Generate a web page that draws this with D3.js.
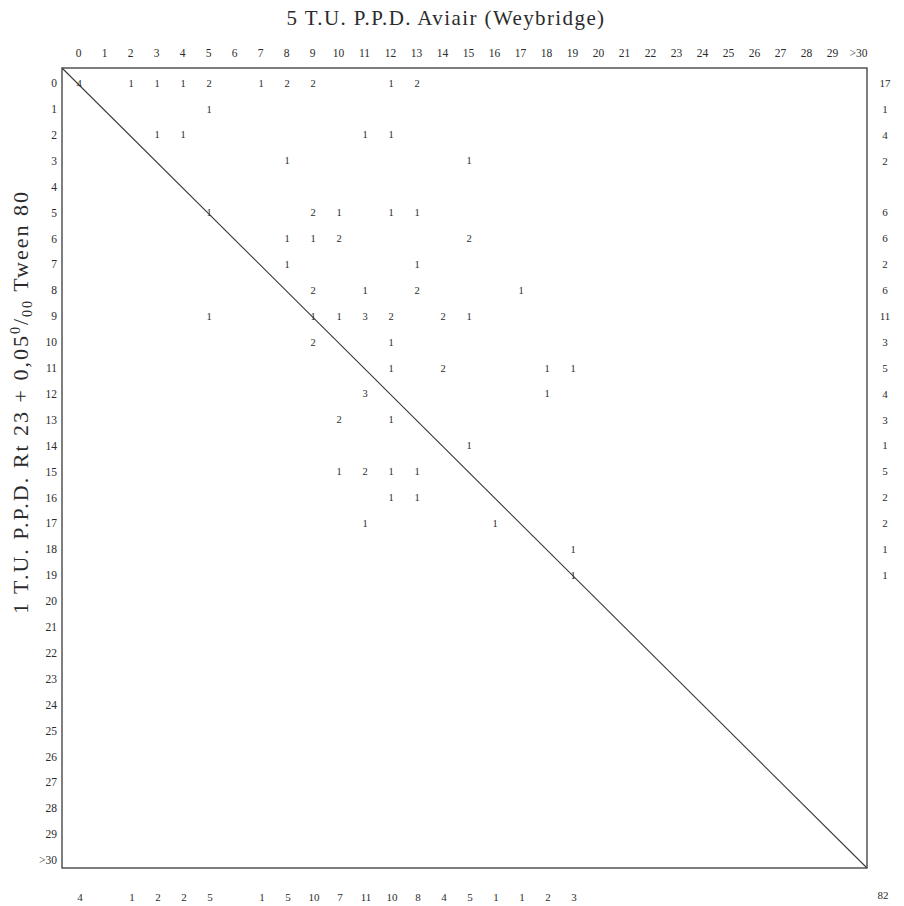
<!DOCTYPE html>
<html>
<head>
<meta charset="utf-8">
<script src="https://cdn.jsdelivr.net/npm/d3@7/dist/d3.min.js"></script>
<style>
  html, body { margin: 0; padding: 0; background: #fff; }
  svg text { font-family: "Liberation Serif", "DejaVu Serif", serif; fill: #2b2b2b; }
</style>
</head>
<body>
<svg id="chart" width="904" height="906"></svg>
<script>
// Titer categories (T.U. readings) for both antigens
const colLabels = ["0","1","2","3","4","5","6","7","8","9","10","11","12","13","14","15",
  "16","17","18","19","20","21","22","23","24","25","26","27","28","29",">30"];
const rowLabels = colLabels.slice();

// Cross-tabulated counts: [row category, column category, count]
const cells = [
  ["0","0",4],["0","2",1],["0","3",1],["0","4",1],["0","5",2],["0","7",1],["0","8",2],["0","9",2],["0","12",1],["0","13",2],
  ["1","5",1],
  ["2","3",1],["2","4",1],["2","11",1],["2","12",1],
  ["3","8",1],["3","15",1],
  ["5","5",1],["5","9",2],["5","10",1],["5","12",1],["5","13",1],
  ["6","8",1],["6","9",1],["6","10",2],["6","15",2],
  ["7","8",1],["7","13",1],
  ["8","9",2],["8","11",1],["8","13",2],["8","17",1],
  ["9","5",1],["9","9",1],["9","10",1],["9","11",3],["9","12",2],["9","14",2],["9","15",1],
  ["10","9",2],["10","12",1],
  ["11","12",1],["11","14",2],["11","18",1],["11","19",1],
  ["12","11",3],["12","18",1],
  ["13","10",2],["13","12",1],
  ["14","15",1],
  ["15","10",1],["15","11",2],["15","12",1],["15","13",1],
  ["16","12",1],["16","13",1],
  ["17","11",1],["17","16",1],
  ["18","19",1],
  ["19","19",1]
];

// Marginal totals
const rowTotals = [["0",17],["1",1],["2",4],["3",2],["5",6],["6",6],["7",2],["8",6],["9",11],["10",3],
  ["11",5],["12",4],["13",3],["14",1],["15",5],["16",2],["17",2],["18",1],["19",1]];
const colTotals = [["0",4],["2",1],["3",2],["4",2],["5",5],["7",1],["8",5],["9",10],["10",7],["11",11],
  ["12",10],["13",8],["14",4],["15",5],["16",1],["17",1],["18",2],["19",3]];
const grandTotal = 82;

const titleTop = "5 T.U. P.P.D. Aviair (Weybridge)";

const svg = d3.select("#chart");

// Scales for label/cell positions and for the frame
const x = d3.scalePoint().domain(colLabels).range([78, 858]);
const y = d3.scalePoint().domain(rowLabels).range([83, 860]);
const frame = { x0: 62, x1: 867, y0: 68, y1: 868 };

// Frame
svg.append("rect")
  .attr("x", frame.x0).attr("y", frame.y0)
  .attr("width", frame.x1 - frame.x0).attr("height", frame.y1 - frame.y0)
  .attr("fill", "none").attr("stroke", "#3a3a3a").attr("stroke-width", 1.3);

// Diagonal of equal titers
svg.append("line")
  .attr("x1", frame.x0).attr("y1", frame.y0)
  .attr("x2", frame.x1).attr("y2", frame.y1)
  .attr("stroke", "#3a3a3a").attr("stroke-width", 1.1);

// Top axis
const topAxis = d3.axisTop(x).tickSize(0).tickPadding(0);
const gTop = svg.append("g").attr("transform", "translate(0,57)").call(topAxis);
gTop.select(".domain").remove();
gTop.selectAll("text").attr("font-size", 11.5).attr("fill", "#2b2b2b")
  .attr("font-family", "Liberation Serif, DejaVu Serif, serif");

// Left axis
const leftAxis = d3.axisLeft(y).tickSize(0).tickPadding(0);
const gLeft = svg.append("g").attr("transform", "translate(57,0)").call(leftAxis);
gLeft.select(".domain").remove();
gLeft.selectAll("text").attr("font-size", 11.5).attr("fill", "#2b2b2b")
  .attr("font-family", "Liberation Serif, DejaVu Serif, serif");

// Cell counts
svg.append("g").selectAll("text").data(cells).join("text")
  .attr("x", d => x(d[1]) + 1)
  .attr("y", d => y(d[0]))
  .attr("dy", "0.35em")
  .attr("text-anchor", "middle")
  .attr("font-size", 10.5)
  .text(d => d[2]);

// Row totals on the right
svg.append("g").selectAll("text").data(rowTotals).join("text")
  .attr("x", 885)
  .attr("y", d => y(d[0]))
  .attr("dy", "0.35em")
  .attr("text-anchor", "middle")
  .attr("font-size", 11)
  .text(d => d[1]);

// Column totals at the bottom
svg.append("g").selectAll("text").data(colTotals).join("text")
  .attr("x", d => x(d[0]) + 2)
  .attr("y", 897)
  .attr("dy", "0.35em")
  .attr("text-anchor", "middle")
  .attr("font-size", 11)
  .text(d => d[1]);

svg.append("text")
  .attr("x", 883).attr("y", 895).attr("dy", "0.35em")
  .attr("text-anchor", "middle").attr("font-size", 11)
  .text(grandTotal);

// Titles
svg.append("text")
  .attr("x", 446).attr("y", 25)
  .attr("text-anchor", "middle")
  .attr("font-size", 21)
  .attr("letter-spacing", 1.4)
  .text(titleTop);

const yTitle = svg.append("text")
  .attr("transform", "translate(28,402) rotate(-90)")
  .attr("text-anchor", "middle")
  .attr("font-size", 22)
  .attr("letter-spacing", 2);
yTitle.append("tspan").text("1 T.U. P.P.D. Rt 23 + 0,05");
yTitle.append("tspan").attr("font-size", 14).attr("dy", -8).text("0");
yTitle.append("tspan").attr("dy", 8).text("/");
yTitle.append("tspan").attr("font-size", 14).attr("dy", 4).text("00");
yTitle.append("tspan").attr("dy", -4).text(" Tween 80");
</script>
</body>
</html>
